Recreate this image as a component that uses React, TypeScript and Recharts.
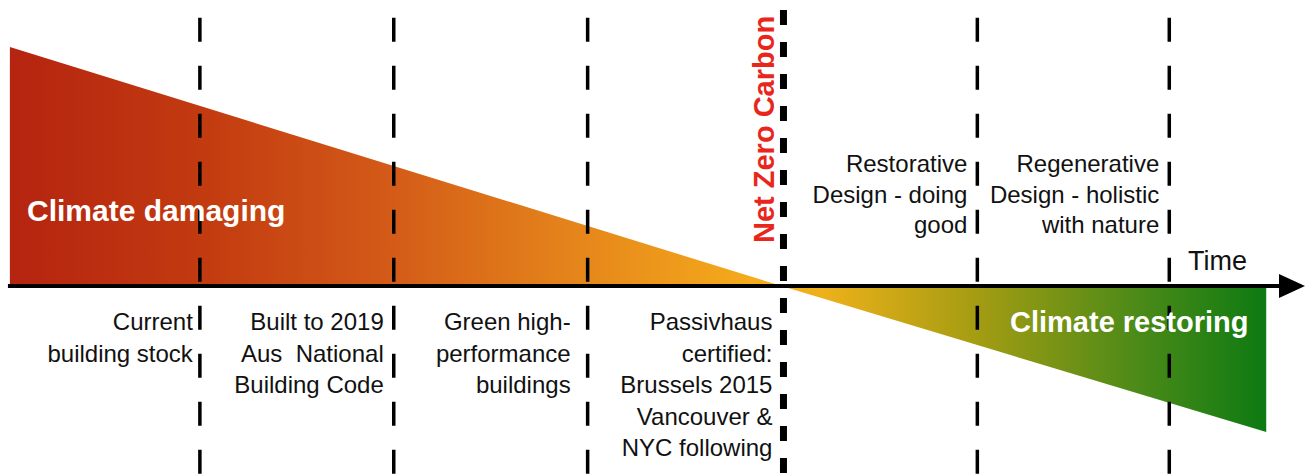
import { ComposedChart, Area, XAxis, YAxis, ReferenceLine, ReferenceDot } from 'recharts'

// impact over time: positive = climate damaging, negative = climate restoring
const impactTimes = [0.02, 4, 6.5]
const impactValues = [10.06, 0, -6.15]

// dashed stage markers on the time axis
const stageTimes = [1, 2, 3, 4.01, 5.01, 6]
const stageBelow = [
  ['Current', 'building stock'],
  ['Built to 2019', 'Aus  National', 'Building Code'],
  ['Green high-', 'performance', 'buildings'],
  ['Passivhaus', 'certified:', 'Brussels 2015', 'Vancouver &', 'NYC following'],
  [],
  [],
]
const stageAbove = [
  [],
  [],
  [],
  [],
  ['Restorative', 'Design - doing', 'good'],
  ['Regenerative', 'Design - holistic', 'with nature'],
]
const netZeroIndex = 3
const netZeroTitle = 'Net Zero Carbon'
const axisTitle = 'Time'
const damagingTitle = 'Climate damaging'
const restoringTitle = 'Climate restoring'

const data = impactTimes.map((t, i) => ({ t, impact: impactValues[i] }))

const FONT = '"Liberation Sans", Arial, Helvetica, sans-serif'
const labelGap = [7, 10, 17, 11, 10, 10]

function stageLabel(i: number) {
  return (props: any) => {
    const vb = props.viewBox || {}
    const right = vb.x - labelGap[i]
    return (
      <g>
        {stageBelow[i].map((line, k) => (
          <text key={'b' + k} x={right} y={330 + k * 31.5} textAnchor="end" fontSize={24}
            fontFamily={FONT} fill="#111" style={{ whiteSpace: 'pre' }}>{line}</text>
        ))}
        {stageAbove[i].map((line, k) => (
          <text key={'a' + k} x={right} y={172 + k * 30.5} textAnchor="end" fontSize={24}
            fontFamily={FONT} fill="#111" style={{ whiteSpace: 'pre' }}>{line}</text>
        ))}
        {i === netZeroIndex && (
          <text x={vb.x - 9} y={243} transform={`rotate(-90 ${vb.x - 9} 243)`} fontSize={29}
            fontWeight="bold" fontFamily={FONT} fill="#e8261b">{netZeroTitle}</text>
        )}
      </g>
    )
  }
}

const axisLabels = () => (
  <g>
    <text x={27} y={221} fontSize={30} fontWeight="bold" fontFamily={FONT} fill="#fff">{damagingTitle}</text>
    <text x={1010} y={332} fontSize={29} fontWeight="bold" fontFamily={FONT} fill="#fff">{restoringTitle}</text>
    <text x={1188} y={270} fontSize={27} fontFamily={FONT} fill="#111">{axisTitle}</text>
  </g>
)

const arrowHead = (p: any) => (
  <polygon points={`${p.cx - 26},${p.cy - 12} ${p.cx},${p.cy} ${p.cx - 26},${p.cy + 12}`} fill="#000" />
)

export default function App() {
  return (
    <div style={{ position: 'absolute', left: 0, top: 0, background: '#fff' }}>
      <ComposedChart width={1308} height={476} data={data} margin={{ top: 1, right: 3, bottom: 0, left: 6 }}>
        <defs>
          <linearGradient id="impactFill" x1="0" y1="0" x2="1" y2="0">
            <stop offset="0" stopColor="#b52410" />
            <stop offset="0.15" stopColor="#c23a10" />
            <stop offset="0.3" stopColor="#d35a18" />
            <stop offset="0.46" stopColor="#e6881b" />
            <stop offset="0.61" stopColor="#f7b01c" />
            <stop offset="0.65" stopColor="#ecb01a" />
            <stop offset="0.77" stopColor="#a49c12" />
            <stop offset="0.9" stopColor="#4a8a18" />
            <stop offset="1" stopColor="#0d7a12" />
          </linearGradient>
        </defs>
        <XAxis type="number" dataKey="t" domain={[0, 6.7]} hide />
        <YAxis type="number" domain={[-8, 12]} hide />
        <Area type="linear" dataKey="impact" baseValue={0} stroke="none" fill="url(#impactFill)"
          fillOpacity={1} isAnimationActive={false} />
        {stageTimes.map((t, i) => (
          <ReferenceLine key={i}
            segment={[{ x: t, y: i === netZeroIndex ? 11.62 : 11.3 }, { x: t, y: -8 }]}
            stroke="#000"
            strokeWidth={i === netZeroIndex ? 7 : 3.5}
            strokeDasharray={i === netZeroIndex ? '15 17' : '24 24'}
            label={stageLabel(i)}
          />
        ))}
        <ReferenceLine segment={[{ x: 0.01, y: 0 }, { x: 6.6, y: 0 }]} stroke="#000" strokeWidth={4}
          label={axisLabels} />
        <ReferenceDot x={6.7} y={0} r={1} shape={arrowHead} />
      </ComposedChart>
    </div>
  )
}
